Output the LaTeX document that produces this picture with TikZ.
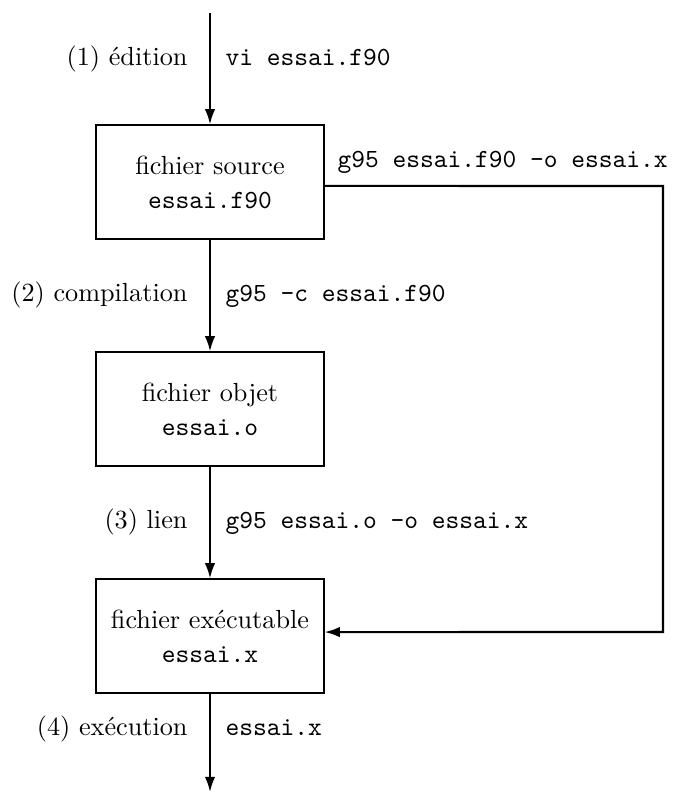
\documentclass[tikz,border=0pt]{standalone}
\usetikzlibrary{arrows.meta}
\begin{document}
\begin{tikzpicture}[x=0.38168pt,y=-0.38168pt,
  box/.style={draw,line width=0.5pt,minimum width=87pt,minimum height=43.5pt,align=center,inner sep=0pt},
  conn/.style={line width=0.8pt,-{Latex[length=5.8pt,width=4pt]}},
  lab/.style={inner sep=0pt,anchor=mid east},
  cmd/.style={inner sep=0pt,anchor=mid west,font=\ttfamily}]
\useasboundingbox (0,0) rectangle (673,792);
\node[box] (b1) at (210,182) {fichier source\\[1pt]\texttt{essai.f90}};
\node[box] (b2) at (210,409) {fichier objet\\[1pt]\texttt{essai.o}};
\node[box] (b3) at (210,636) {fichier exécutable\\[1pt]\texttt{essai.x}};
\coordinate (top) at (210,13);
\coordinate (bot) at (210,792);
\coordinate (c1) at (663,186);
\coordinate (c2) at (663,632);
\draw[conn] (top) -- (b1.north);
\draw[conn] (b1.south) -- (b2.north);
\draw[conn] (b2.south) -- (b3.north);
\draw[conn] (b3.south) -- (bot);
\draw[conn] ([yshift=-1.5pt]b1.east) -- (c1) -- (c2) -- ([yshift=1.5pt]b3.east);
\node[lab] (l1) at (188,60) {(1) édition};
\node[cmd] (k1) at (225,60) {vi essai.f90};
\node[lab] (l2) at (188,296) {(2) compilation};
\node[cmd] (k2) at (225,296) {g95 -c essai.f90};
\node[lab] (l3) at (188,523) {(3) lien};
\node[cmd] (k3) at (225,523) {g95 essai.o -o essai.x};
\node[lab] (l4) at (188,730) {(4) exécution};
\node[cmd] (k4) at (225,730) {essai.x};
\node[cmd] (k5) at (337,162) {g95 essai.f90 -o essai.x};
\end{tikzpicture}
\end{document}
